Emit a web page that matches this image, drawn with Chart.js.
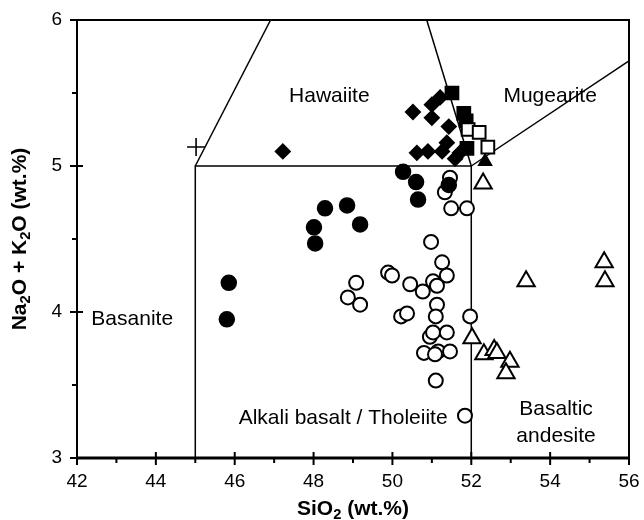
<!DOCTYPE html>
<html>
<head>
<meta charset="utf-8">
<script src="https://cdn.jsdelivr.net/npm/chart.js@4"></script>
<style>
  html, body { margin: 0; background: #fff; }
</style>
</head>
<body>
<canvas id="grafico" width="644" height="520"></canvas>
<script>
// points: [SiO2, Na2O+K2O]
const circulosLlenos = [
  [48.29, 4.71], [48.85, 4.73], [48.01, 4.58], [48.04, 4.47], [49.18, 4.60],
  [45.85, 4.20], [45.80, 3.95], [50.27, 4.96], [50.60, 4.89], [50.65, 4.77],
  [51.43, 4.87]
];
const circulosVacios = [
  [51.46, 4.92], [51.33, 4.82], [51.49, 4.71], [51.89, 4.71], [50.98, 4.48],
  [51.26, 4.34], [51.38, 4.25], [49.89, 4.27], [49.99, 4.25], [50.45, 4.19],
  [50.77, 4.14], [51.03, 4.21], [51.13, 4.18], [49.08, 4.20], [48.87, 4.10],
  [49.18, 4.05], [51.13, 4.05], [51.10, 3.97], [50.22, 3.97], [50.37, 3.99],
  [51.97, 3.97], [50.95, 3.83], [51.03, 3.86], [51.38, 3.86], [50.80, 3.72],
  [51.16, 3.73], [51.46, 3.73], [51.08, 3.71], [51.10, 3.53], [51.84, 3.29]
];
const rombos = [
  [47.22, 5.10], [50.52, 5.37], [51.00, 5.42], [51.21, 5.47], [51.00, 5.33],
  [51.43, 5.27], [51.38, 5.16], [50.62, 5.09], [50.90, 5.10], [51.26, 5.10],
  [51.59, 5.05], [51.71, 5.09]
];
const cuadradosLlenos = [[51.51, 5.50], [51.81, 5.36], [51.87, 5.31], [51.89, 5.12]];
const cuadradosVacios = [[51.92, 5.25], [52.20, 5.23], [52.42, 5.13]];
const triangulosLlenos = [[52.35, 5.03]];
const triangulosVacios = [
  [52.30, 4.88], [52.02, 3.82], [52.32, 3.71], [52.58, 3.74], [52.65, 3.72],
  [52.98, 3.66], [52.88, 3.58], [53.39, 4.21], [55.37, 4.34], [55.39, 4.21]
];
const cruces = [[45.02, 5.13]];

// TAS field boundaries
const limiteBasalto = [[45, 3], [45, 5], [52, 5], [52, 3]];
const limiteBasanita = [[45, 5], [46.91, 6]];
const limiteHawaiita = [[52, 5], [50.87, 6]];
const limiteMugearita = [[52, 5], [56, 5.72]];

const ticksX = [42, 44, 46, 48, 50, 52, 54, 56];
const ticksY = [3, 4, 5, 6];

// field names: [text lines, x, y]
const campos = [
  [['Hawaiite'], 48.4, 5.48],
  [['Mugearite'], 54.0, 5.48],
  [['Basanite'], 43.4, 3.95],
  [['Alkali basalt / Tholeiite'], 48.75, 3.27],
  [['Basaltic', 'andesite'], 54.15, 3.24]
];

const fuente = '"Liberation Sans", Arial, sans-serif';
const pts = arr => arr.map(([x, y]) => ({ x, y }));

const puntos = (data, style, radius, fill, bw = 2) => ({
  data: pts(data),
  pointStyle: style,
  pointRadius: radius,
  pointHoverRadius: radius,
  pointBackgroundColor: fill,
  pointBorderColor: '#000',
  pointBorderWidth: bw,
  showLine: false
});
const limite = data => ({
  data: pts(data),
  showLine: true,
  borderColor: '#000',
  borderWidth: 1.5,
  pointRadius: 0,
  fill: false,
  order: 10
});

// text with subscripts: parts = [[text, isSub], ...]
function textoSub(ctx, parts, size) {
  const w = parts.reduce((s, [t, sub]) => {
    ctx.font = `bold ${sub ? size * 0.7 : size}px ${fuente}`;
    return s + ctx.measureText(t).width;
  }, 0);
  let x = -w / 2;
  parts.forEach(([t, sub]) => {
    ctx.font = `bold ${sub ? size * 0.7 : size}px ${fuente}`;
    ctx.fillText(t, x, sub ? size * 0.3 : 0);
    x += ctx.measureText(t).width;
  });
}

const marco = {
  id: 'marco',
  beforeDatasetsDraw(chart) {
    const { ctx, scales: { x, y } } = chart;
    ctx.save();
    ctx.fillStyle = '#000';
    ctx.font = `21px ${fuente}`;
    ctx.textAlign = 'center';
    ctx.textBaseline = 'middle';
    campos.forEach(([lineas, vx, vy]) => {
      const px = x.getPixelForValue(vx);
      const py = y.getPixelForValue(vy);
      lineas.forEach((t, i) => ctx.fillText(t, px, py + (i - (lineas.length - 1) / 2) * 27));
    });
    ctx.restore();
  },
  afterDatasetsDraw(chart) {
    const { ctx, chartArea: a, scales: { x, y } } = chart;
    ctx.save();
    ctx.strokeStyle = '#000';
    ctx.lineWidth = 2;
    ctx.strokeRect(a.left, a.top, a.right - a.left, a.bottom - a.top);
    ctx.lineWidth = 3;
    ctx.beginPath();
    ctx.moveTo(a.left - 1, a.bottom);
    ctx.lineTo(a.right + 1, a.bottom);
    ctx.stroke();
    ctx.lineWidth = 2;
    ctx.beginPath();
    for (let v = 42; v <= 56; v++) {
      const px = x.getPixelForValue(v);
      const mayor = v % 2 === 0;
      ctx.moveTo(px, a.bottom - (mayor ? 6 : 0));
      ctx.lineTo(px, a.bottom + (mayor ? 7 : 5));
    }
    for (let v = 3; v <= 6; v += 0.5) {
      const py = y.getPixelForValue(v);
      const mayor = v % 1 === 0;
      ctx.moveTo(a.left + (mayor && v < 6 ? 6 : 0), py);
      ctx.lineTo(a.left - (mayor ? 7 : 5), py);
    }
    ctx.stroke();

    ctx.fillStyle = '#000';
    ctx.textBaseline = 'middle';
    ctx.save();
    ctx.translate((a.left + a.right) / 2, 509);
    textoSub(ctx, [['SiO', false], ['2', true], [' (wt.%)', false]], 21);
    ctx.restore();
    ctx.save();
    ctx.translate(20, (a.top + a.bottom) / 2);
    ctx.rotate(-Math.PI / 2);
    textoSub(ctx, [['Na', false], ['2', true], ['O + K', false], ['2', true], ['O (wt.%)', false]], 21);
    ctx.restore();
    ctx.restore();
  }
};

new Chart(document.getElementById('grafico'), {
  type: 'scatter',
  data: {
    datasets: [
      puntos(cruces, 'cross', 9, '#000', 1.6),
      puntos(triangulosVacios, 'triangle', 10, '#fff'),
      puntos(triangulosLlenos, 'triangle', 7, '#000'),
      puntos(cuadradosVacios, 'rect', 9, '#fff'),
      puntos(cuadradosLlenos, 'rect', 9, '#000'),
      puntos(rombos, 'rectRot', 7, '#000'),
      puntos(circulosLlenos, 'circle', 7.5, '#000', 1.5),
      puntos(circulosVacios, 'circle', 7, '#fff'),
      limite(limiteBasalto),
      limite(limiteBasanita),
      limite(limiteHawaiita),
      limite(limiteMugearita)
    ]
  },
  options: {
    responsive: false,
    animation: false,
    layout: { padding: { top: 20, right: 15, left: 0, bottom: 0 } },
    plugins: { legend: { display: false }, tooltip: { enabled: false } },
    scales: {
      x: {
        type: 'linear',
        min: 42, max: 56,
        afterBuildTicks: s => { s.ticks = ticksX.map(value => ({ value })); },
        afterFit: s => { s.height = 62; s.paddingLeft = 0; s.paddingRight = 0; },
        grid: { display: false, drawTicks: false },
        border: { display: false },
        ticks: { color: '#000', padding: 12, font: { family: fuente, size: 19 } }
      },
      y: {
        type: 'linear',
        min: 3, max: 6,
        afterBuildTicks: s => { s.ticks = ticksY.map(value => ({ value })); },
        afterFit: s => { s.width = 77; s.paddingTop = 0; s.paddingBottom = 0; },
        grid: { display: false, drawTicks: false },
        border: { display: false },
        ticks: { color: '#000', padding: 15, font: { family: fuente, size: 19 } }
      }
    }
  },
  plugins: [marco]
});
</script>
</body>
</html>
